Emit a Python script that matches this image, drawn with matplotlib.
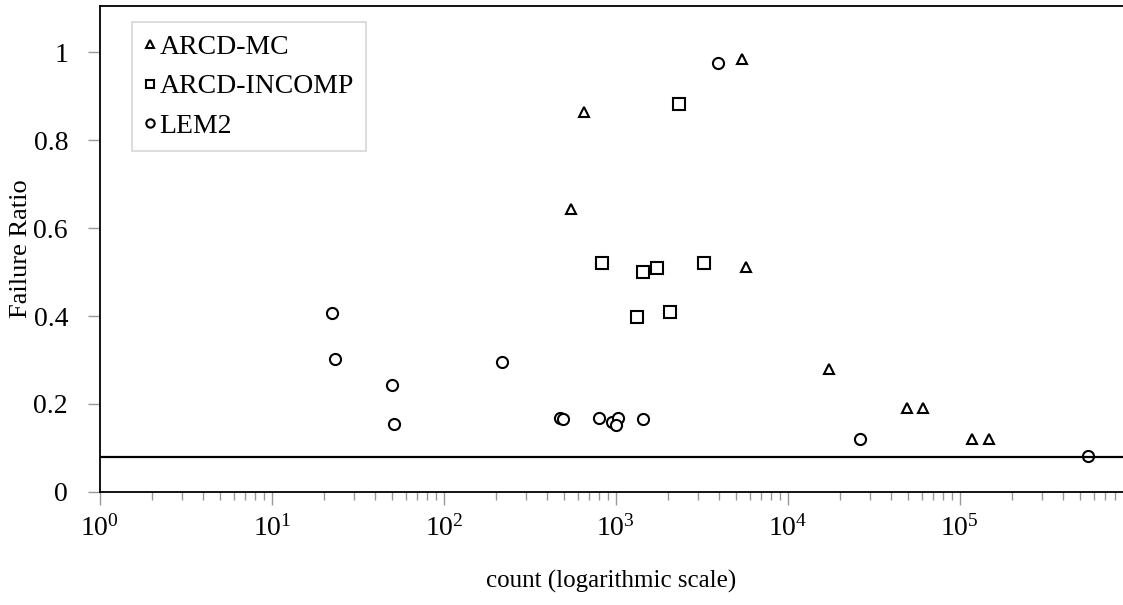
import numpy as np
import matplotlib
matplotlib.use('Agg')
from matplotlib import pyplot as plt
from matplotlib.ticker import FixedLocator, FixedFormatter, LogLocator, NullFormatter

plt.rcParams['font.family'] = ['Liberation Serif', 'DejaVu Serif']
plt.rcParams['mathtext.fontset'] = 'custom'
plt.rcParams['mathtext.rm'] = 'Liberation Serif'

# ARCD-MC
mc_x = [5400, 651, 547, 5700, 17300, 49200, 60900, 117500, 147500]
mc_y = [0.984, 0.864, 0.643, 0.511, 0.280, 0.191, 0.191, 0.120, 0.120]

# ARCD-INCOMP
inc_x = [829, 1324, 1436, 1730, 2060, 2323, 3250]
inc_y = [0.520, 0.398, 0.500, 0.509, 0.409, 0.882, 0.520]

# LEM2
lem_x = [22.3, 23.2, 49.9, 51.2, 217, 472, 492, 796, 948, 1027, 1000, 1435, 3918, 26200, 555000]
lem_y = [0.407, 0.302, 0.243, 0.155, 0.295, 0.168, 0.166, 0.168, 0.159, 0.168, 0.152, 0.166, 0.975, 0.120, 0.082]

baseline = 0.08
yticks = [0, 0.2, 0.4, 0.6, 0.8, 1]
ytick_labels = ['0', '0.2', '0.4', '0.6', '0.8', '1']

fig = plt.figure(figsize=(11.23, 6.05), dpi=100)
ax = fig.add_axes([0.089, 0.187, 0.911, 0.803])

mk = dict(linestyle='none', markerfacecolor='white', markeredgecolor='black', markeredgewidth=1.5)
ax.plot(mc_x, mc_y, marker='^', markersize=7.5, label='ARCD-MC', **mk)
ax.plot(inc_x, inc_y, marker='s', markersize=8, label='ARCD-INCOMP', **mk)
ax.plot(lem_x, lem_y, marker='o', markersize=8, label='LEM2', **mk)
ax.axhline(baseline, color='black', lw=1.6)

ax.set_xscale('log')
ax.set_xlim(1, 8.9e5)
ax.set_ylim(0, 1.105)

ax.yaxis.set_major_locator(FixedLocator(yticks))
ax.yaxis.set_major_formatter(FixedFormatter(ytick_labels))
ax.xaxis.set_major_locator(LogLocator(base=10, numticks=10))
ax.xaxis.set_minor_locator(LogLocator(base=10, subs=np.arange(2, 10), numticks=20))
ax.xaxis.set_minor_formatter(NullFormatter())

ax.tick_params(axis='both', which='major', direction='out', length=9, width=1,
               color='#999999', labelsize=20, pad=8)
ax.tick_params(axis='x', which='minor', direction='out', length=6, width=1, color='#999999')
ax.tick_params(axis='y', which='major', pad=14)

ax.spines['right'].set_visible(False)
for s in ['top', 'left', 'bottom']:
    ax.spines[s].set_linewidth(1.3)

ax.set_ylabel('Failure Ratio', fontsize=19)
ax.yaxis.set_label_coords(-0.066, 0.5)
ax.set_xlabel('count (logarithmic scale)', fontsize=18, labelpad=20)

leg = ax.legend(loc='upper left', bbox_to_anchor=(0.031, 0.967), fontsize=20,
                frameon=True, fancybox=False, handletextpad=0.1, handlelength=0.45,
                borderpad=0.45, labelspacing=0.5, markerscale=0.75, borderaxespad=0)
leg.get_frame().set_edgecolor('#cccccc')
leg.get_frame().set_linewidth(1.2)

fig.savefig('out.png', dpi=100)
